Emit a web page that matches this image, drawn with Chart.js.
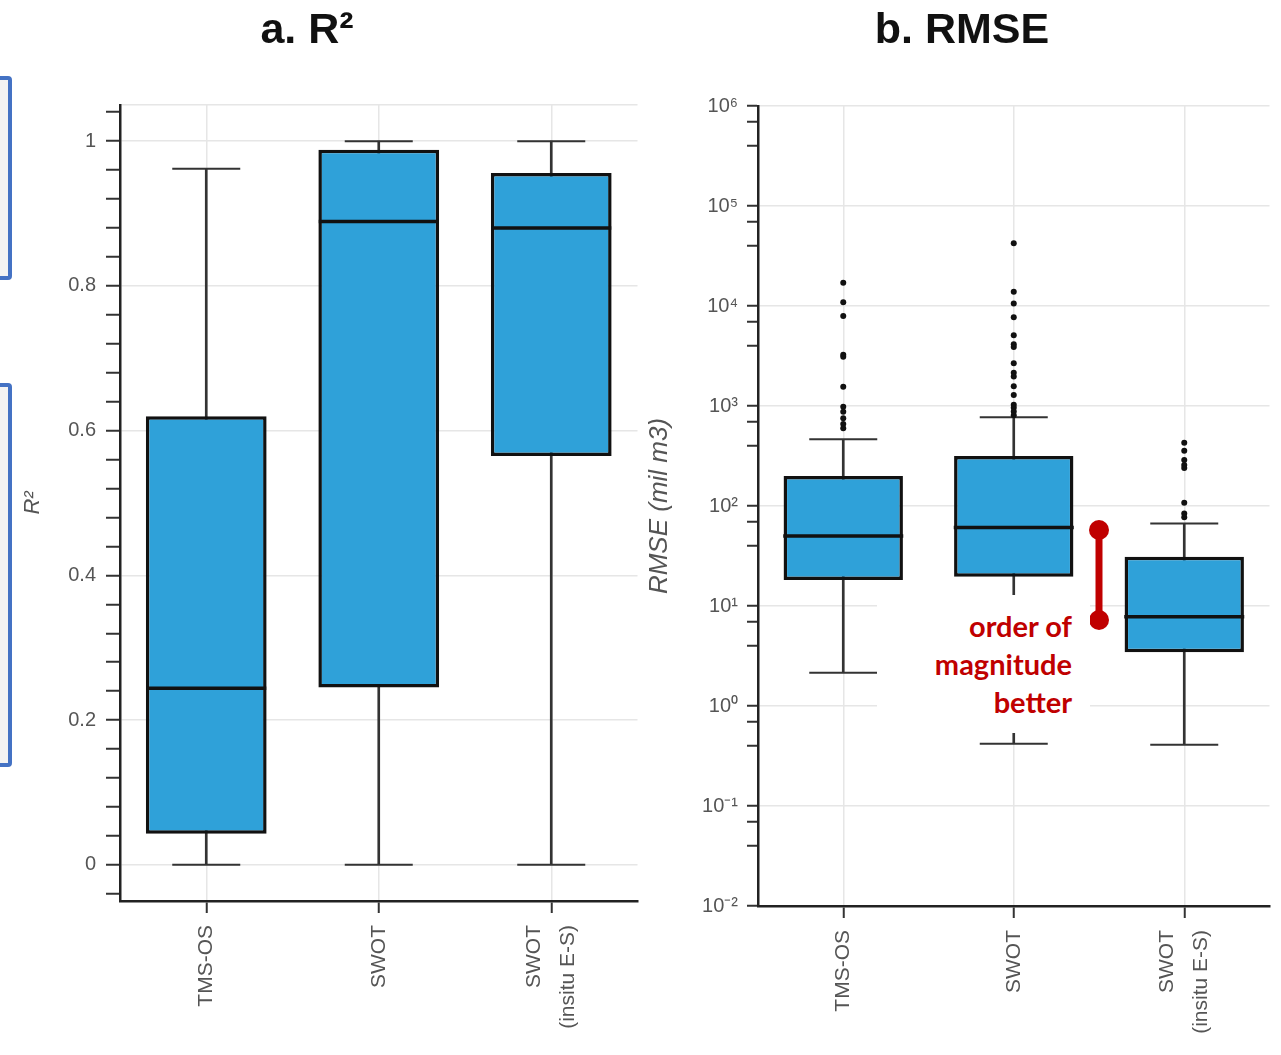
<!DOCTYPE html>
<html>
<head>
<meta charset="utf-8">
<title>R² and RMSE box plots</title>
<script src="https://cdn.jsdelivr.net/npm/chart.js@4.4.1/dist/chart.umd.min.js"></script>
<style>
    body { margin: 0; width: 1281px; height: 1055px; position: relative; overflow: hidden; background: #fff; font-family: 'Liberation Sans', Arial, sans-serif; }
    canvas { position: absolute; top: 0; }
    .panel-title { position: absolute; top: 7px; font-size: 43px; line-height: 43px; font-weight: bold; color: #111; transform: translateX(-50%); white-space: nowrap; }
    .side-box { position: absolute; left: -12px; width: 16px; border: 4px solid #4472c4; border-radius: 4px; background: #f3f3f3; }
    .note { position: absolute; left: 877px; top: 595px; width: 213px; height: 138px; box-sizing: border-box; padding: 12px 18px 0 0; background: #fff; text-align: right; font-family: Lato, 'Open Sans', sans-serif; font-weight: 700; font-size: 29px; line-height: 38px; color: #c00000; }
</style>
</head>
<body>
<!-- canvases are wider than their panels: the median markers reserve 63px on the right -->
<canvas id="r2Chart" width="701" height="1055" style="left:0"></canvas>
<canvas id="rmseChart" width="693" height="1055" style="left:640px"></canvas>
<div class="side-box" style="top:76px;height:196px"></div>
<div class="side-box" style="top:383px;height:376px"></div>
<div class="panel-title" style="left:307px">a. R²</div>
<div class="panel-title" style="left:962px">b. RMSE</div>
<div class="note">order of<br>magnitude<br>better</div>

<script>
// Categories (x axis)
const categories = ['TMS-OS', 'SWOT', ['SWOT', '(insitu E-S)']];
const categoryIndex = [0, 1, 2];

// a. R2 box statistics
const r2Min = [0, 0, 0];
const r2Q1 = [0.043, 0.245, 0.565];
const r2Median = [0.244, 0.889, 0.880];
const r2Q3 = [0.620, 0.988, 0.956];
const r2Max = [0.962, 1.0, 1.0];
const r2TickValues = [0, 0.2, 0.4, 0.6, 0.8, 1];
const r2TickLabels = ['0', '0.2', '0.4', '0.6', '0.8', '1'];

// b. RMSE (mil m3) box statistics
const rmseMin = [2.15, 0.42, 0.41];
const rmseQ1 = [18.2, 19.6, 3.44];
const rmseMedian = [50, 61, 7.8];
const rmseQ3 = [200, 316, 31.1];
const rmseMax = [464, 771, 67];
const rmseOutliersTms = [17100, 10900, 7940, 3250, 3100, 1560, 985, 877, 753, 661, 598];
const rmseOutliersSwot = [42400, 13900, 10600, 7700, 5100, 4150, 3900, 2680, 2150, 1970, 1580, 1290, 1030, 960, 880, 810];
const rmseOutliersInsitu = [430, 357, 288, 257, 240, 108, 84, 77];
const rmseTickValues = [1e-2, 1e-1, 1, 10, 100, 1e3, 1e4, 1e5, 1e6];
const rmseTickLabels = ['10⁻²', '10⁻¹', '10⁰', '10¹', '10²', '10³', '10⁴', '10⁵', '10⁶'];

// "order of magnitude better" marker (between SWOT and SWOT insitu medians)
const gapX = [1.5, 1.5];
const gapValues = [57.5, 7.25];

const BOX_BLUE = '#2fa1d9';
const INK = '#111';
const GRID = '#e6e6e6';
const NONE = 'rgba(0,0,0,0)';

Chart.defaults.font.family = "'Liberation Sans', Arial, sans-serif";
Chart.defaults.color = '#555';

// Rotated category labels, centred on each tick (multi-line labels straddle it)
const categoryLabelPlugin = {
    id: 'categoryLabels',
    afterDraw(chart) {
        const { ctx } = chart;
        const x = chart.scales.x;
        ctx.save();
        ctx.font = "21px 'Liberation Sans', Arial, sans-serif";
        ctx.fillStyle = '#555';
        ctx.textAlign = 'right';
        ctx.textBaseline = 'middle';
        categories.forEach((label, i) => {
            const lines = [].concat(label);
            const px = x.getPixelForValue(categoryIndex[i]);
            lines.forEach((line, j) => {
                ctx.save();
                ctx.translate(px + (j - (lines.length - 1) / 2) * 34, x.top + 24);
                ctx.rotate(-Math.PI / 2);
                ctx.fillText(line, 0, 0);
                ctx.restore();
            });
        });
        ctx.restore();
    }
};

document.addEventListener('DOMContentLoaded', function() {
    createR2Chart();
    createRmseChart();
});

function toPoints(xs, ys) {
    return ys.map((y, i) => ({ x: xs[i], y: y }));
}

function repeatAt(x, values) {
    return values.map(v => ({ x: x, y: v }));
}

function labelFor(values, labels, v) {
    const i = values.findIndex(t => Math.abs(t - v) < 1e-9);
    return i === -1 ? '' : labels[i];
}

// Box plot pieces: median + caps (points), box (floating bar), whisker (thin bar)
function boxDatasets(min, q1, median, q3, max) {
    return [
        {
            type: 'line', data: toPoints(categoryIndex, median), showLine: false,
            pointStyle: 'line', pointRadius: 60, pointBorderWidth: 3.5, pointBorderColor: INK, order: 0
        },
        {
            type: 'line', data: toPoints(categoryIndex, min).concat(toPoints(categoryIndex, max)), showLine: false,
            pointStyle: 'line', pointRadius: 34, pointBorderWidth: 2, pointBorderColor: '#333', order: 1
        },
        {
            type: 'bar', data: q1.map((v, i) => ({ x: categoryIndex[i], y: [v, q3[i]] })),
            backgroundColor: BOX_BLUE, borderColor: INK, borderWidth: 3.5, borderSkipped: false,
            barPercentage: 0.7, categoryPercentage: 1, grouped: false, order: 2
        },
        {
            type: 'bar', data: min.map((v, i) => ({ x: categoryIndex[i], y: [v, max[i]] })),
            backgroundColor: '#333', borderWidth: 0, barThickness: 2, grouped: false, order: 3
        }
    ];
}

function categoryAxis(height) {
    return {
        type: 'linear', min: -0.5, max: 2.5, offset: false,
        afterBuildTicks: scale => { scale.ticks = categoryIndex.map(v => ({ value: v })); },
        afterFit: scale => { scale.height = height; },
        ticks: { display: false },
        grid: { offset: false, color: GRID, lineWidth: 1.5, tickColor: '#333', tickLength: 12, tickWidth: 2 },
        border: { color: '#222', width: 2.5 }
    };
}

// a. R2 panel
function createR2Chart() {
    const ctx = document.getElementById('r2Chart').getContext('2d');

    new Chart(ctx, {
        type: 'bar',
        data: { datasets: boxDatasets(r2Min, r2Q1, r2Median, r2Q3, r2Max) },
        plugins: [categoryLabelPlugin],
        options: {
            responsive: false,
            animation: false,
            devicePixelRatio: 1,
            layout: { padding: { top: 105, right: 0, left: 0, bottom: 0 } },
            plugins: { legend: { display: false }, tooltip: { enabled: false } },
            scales: {
                x: categoryAxis(154),
                y: {
                    type: 'linear', min: -0.05, max: 1.05,
                    afterBuildTicks: scale => {
                        const ticks = [];
                        for (let i = -1; i <= 26; i++) ticks.push({ value: +(i * 0.04).toFixed(2) });
                        ticks.push({ value: 1.05 });
                        scale.ticks = ticks;
                    },
                    afterFit: scale => { scale.width = 120; },
                    ticks: {
                        padding: 10, color: '#555', font: { size: 20 },
                        callback: v => labelFor(r2TickValues, r2TickLabels, v)
                    },
                    grid: {
                        lineWidth: 1.5, tickLength: 14, tickWidth: 2,
                        color: c => (c.tick && (c.tick.value === 1.05 || labelFor(r2TickValues, r2TickLabels, c.tick.value))) ? GRID : NONE,
                        tickColor: c => (c.tick && c.tick.value === 1.05) ? NONE : '#333'
                    },
                    border: { color: '#222', width: 2.5 },
                    title: { display: true, text: 'R²', color: '#555', font: { size: 22, style: 'italic' }, padding: { top: 20 } }
                }
            }
        }
    });
}

// b. RMSE panel (log scale)
function createRmseChart() {
    const ctx = document.getElementById('rmseChart').getContext('2d');
    const datasets = boxDatasets(rmseMin, rmseQ1, rmseMedian, rmseQ3, rmseMax);

    datasets.push({
        type: 'line', showLine: false, order: 0,
        data: repeatAt(0, rmseOutliersTms).concat(repeatAt(1, rmseOutliersSwot), repeatAt(2, rmseOutliersInsitu)),
        pointRadius: 3, pointBorderWidth: 0, pointBackgroundColor: INK
    });
    datasets.push({
        type: 'line', order: 0, data: toPoints(gapX, gapValues),
        borderColor: '#c00000', borderWidth: 7, pointRadius: 10, pointBorderWidth: 0, pointBackgroundColor: '#c00000'
    });

    new Chart(ctx, {
        type: 'bar',
        data: { datasets: datasets },
        plugins: [categoryLabelPlugin],
        options: {
            responsive: false,
            animation: false,
            devicePixelRatio: 1,
            layout: { padding: { top: 106, right: 0, left: 0, bottom: 0 } },
            plugins: { legend: { display: false }, tooltip: { enabled: false } },
            scales: {
                x: categoryAxis(149),
                y: {
                    type: 'logarithmic', min: 1e-2, max: 1e6,
                    afterBuildTicks: scale => {
                        const ticks = [];
                        rmseTickValues.forEach((decade, i) => {
                            ticks.push({ value: decade, major: true });
                            if (i < rmseTickValues.length - 1) {
                                for (let m = 2; m <= 9; m++) ticks.push({ value: decade * m });
                            }
                        });
                        scale.ticks = ticks;
                    },
                    afterFit: scale => { scale.width = 118; },
                    ticks: {
                        padding: 9, color: '#555', font: { size: 20 },
                        callback: v => labelFor(rmseTickValues, rmseTickLabels, v)
                    },
                    grid: {
                        lineWidth: 1.5, tickLength: 11, tickWidth: 2, tickColor: '#333',
                        color: c => (c.tick && labelFor(rmseTickValues, rmseTickLabels, c.tick.value)) ? GRID : NONE
                    },
                    border: { color: '#222', width: 2.5 },
                    title: { display: true, text: 'RMSE (mil m3)', color: '#555', font: { size: 26, style: 'italic' }, padding: { top: 4 } }
                }
            }
        }
    });
}
</script>
</body>
</html>
